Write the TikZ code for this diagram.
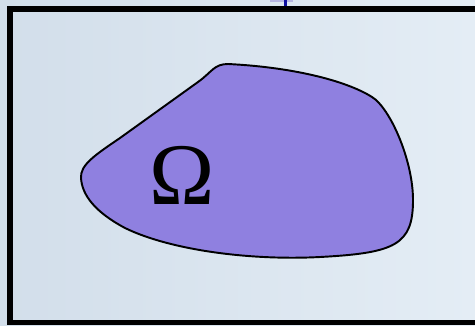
\documentclass[tikz,border=0pt]{standalone}
\usepackage{fontspec}
\usepackage{tikz}
\usetikzlibrary{positioning}
\newfontfamily\omegafont{Liberation Serif}
\definecolor{bgleft}{HTML}{D2DEEA}
\definecolor{bgright}{HTML}{E4EDF5}
\definecolor{domainfill}{HTML}{8F80E0}
\definecolor{markblue}{HTML}{1010A0}
\begin{document}
\begin{tikzpicture}[
        x=0.02cm, y=-0.02cm,
        framebox/.style={draw=black, line width=3.4pt},
        blobshape/.style={draw=black, fill=domainfill, line width=1.1pt},
        domlabel/.style={font=\omegafont\fontsize{50}{50}\selectfont, inner sep=0pt}
    ]
        % Background
        \useasboundingbox (0,0) rectangle (475,325);
        \shade[left color=bgleft, right color=bgright] (0,0) rectangle (475,325);

        % Small mark at top
        \draw[markblue!30, line width=1pt] (270,1) -- (293,1);
        \draw[markblue, line width=1.6pt] (285.5,0) -- (285.5,7);

        % Frame
        \draw[framebox] (480,9) -- (10,9) -- (10,322.5) -- (480,322.5);

        % Domain
        \draw[blobshape] (81,178) .. controls (80,165) and (95,155) .. (120,138)
            -- (198,82) .. controls (212,72) and (214,64) .. (228,64)
            .. controls (290,67) and (345,80) .. (372,97)
            .. controls (390,108) and (413,160) .. (413,200)
            .. controls (413,245) and (395,253) .. (320,257)
            .. controls (250,260.7) and (170,250) .. (125,228)
            .. controls (95,212) and (82,195) .. cycle;
        \node[domlabel] (omega) at (182,175) {Ω};
    \end{tikzpicture}
\end{document}
